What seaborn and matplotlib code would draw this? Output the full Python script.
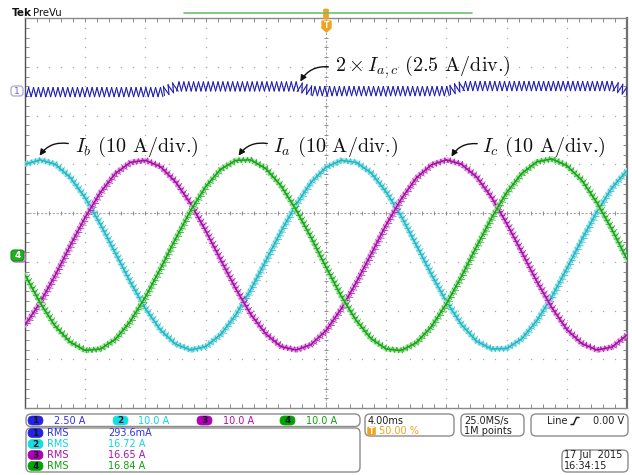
import numpy as np
import pandas as pd
import matplotlib
matplotlib.use("Agg")
import matplotlib.pyplot as plt
import matplotlib.patheffects as pe
from matplotlib.patches import FancyBboxPatch, FancyArrowPatch, Polygon
from matplotlib.lines import Line2D
import seaborn as sns

time_ms = list(range(-20, 21))            # 4 ms/div, trigger at centre
# channel 2 : I_b  (10 A/div)
ib_cyan = [18.6, 19.5, 18.6, 15.9, 11.7, 6.3, 0.4, -5.6, -11.0, -15.4, -18.3,
           -19.5, -18.8, -16.3, -12.3, -7.1, -1.2, 4.8, 10.3, 14.9, 18.0,
           19.4, 19.0, 16.8, 12.9, 7.9, 2.0, -4.0, -9.6, -14.3, -17.7,
           -19.3, -19.2, -17.2, -13.5, -8.6, -2.8, 3.2, 8.9, 13.8, 17.3]
# channel 3 : I_c  (10 A/div)
ic_magenta = [-14.4, -9.8, -4.2, 1.9, 7.7, 12.8, 16.7, 19.0, 19.4, 18.1, 15.0,
              10.5, 5.0, -1.0, -6.9, -12.2, -16.2, -18.8, -19.5, -18.4, -15.5,
              -11.1, -5.7, 0.2, 6.2, 11.5, 15.8, 18.5, 19.5, 18.6, 16.0,
              11.8, 6.5, 0.6, -5.4, -10.8, -15.3, -18.2, -19.5, -18.9, -16.4]
# channel 4 : I_a  (10 A/div)
ia_green = [-4.1, -9.8, -14.6, -17.9, -19.6, -19.3, -17.3, -13.6, -8.6, -2.8, 3.3,
            9.1, 14.0, 17.6, 19.4, 19.5, 17.7, 14.2, 9.3, 3.6, -2.5,
            -8.4, -13.4, -17.2, -19.3, -19.6, -18.0, -14.7, -10.0, -4.4, 1.7,
            7.6, 12.8, 16.7, 19.1, 19.7, 18.3, 15.3, 10.7, 5.2, -0.9]
# channel 1 : 2 x I_a,c mean level (2.5 A/div)
iac_blue = [-0.05, -0.05, -0.05, -0.05, -0.05, -0.05, -0.05, -0.05, -0.05, -0.05,
            0.24, 0.24, 0.24, 0.24, 0.24, 0.24, 0.24, 0.24, 0.24,
            0.0, 0.0, 0.0, 0.0, 0.0, 0.0, 0.0, 0.0, 0.0, 0.0,
            0.26, 0.26, 0.26, 0.26, 0.26, 0.26, 0.26, 0.26, 0.26, 0.26, 0.26, 0.0]

ch_names = ["1", "2", "3", "4"]
ch_scale = [2.5, 10.0, 10.0, 10.0]         # A/div
ch_offset = [2.5, -0.86, -0.86, -0.86]    # div
ch_color = ["#1c1cb0", "#22b6c2", "#a010a0", "#16a216"]
ch_halo = ["#8080e0", "#9ce6ec", "#e8a0e8", "#a4e6a4"]
rms_values = ["293.6mA", "16.72 A", "16.65 A", "16.84 A"]
scale_text = ["2.50 A", "10.0 A", "10.0 A", "10.0 A"]
text_color = ["#3030e8", "#10d4dc", "#b010b0", "#10a010"]
pill_color = ["#2424e0", "#10e0e0", "#b000b0", "#00a400"]

W, H = 632, 475
fig = plt.figure(figsize=(W / 100, H / 100), dpi=100)
sns.set_style("white")
plt.rcParams["mathtext.fontset"] = "cm"
plt.rcParams["font.family"] = ["DejaVu Sans"]

ax = fig.add_axes([25 / W, 1 - 408 / H, 602 / W, 390 / H])

# long-form table for seaborn
series = [iac_blue, ib_cyan, ic_magenta, ia_green]
rows = []
for k, vals in enumerate(series):
    for t, v in zip(time_ms, vals):
        rows.append({"t": t, "div": ch_offset[k] + v / ch_scale[k], "ch": ch_names[k]})
df = pd.DataFrame(rows)
sns.lineplot(data=df, x="t", y="div", hue="ch", hue_order=ch_names,
             palette=dict(zip(ch_names, ch_color)), legend=False, ax=ax,
             estimator=None, sort=False, linewidth=1.0)


def ripple(color, spacing, amp_px, lw, alpha=1.0):
    """zig-zag ripple texture drawn along a trace (pure rendering style)"""
    amp = amp_px * 0.72
    q = spacing / 4.0
    th = np.degrees(np.arctan2(amp, q))
    L = np.hypot(amp, q) / spacing
    kw = dict(spacing=spacing, length=L, linewidth=lw, foreground=color, alpha=alpha)
    return [pe.TickedStroke(angle=th, **kw),
            pe.TickedStroke(angle=th - 180, **kw),
            pe.TickedStroke(offset=(spacing / 2, 0), angle=180 - th, **kw),
            pe.TickedStroke(offset=(spacing / 2, 0), angle=-th, **kw)]


for k, line in enumerate(ax.lines[:4]):
    if k == 0:
        line.set_path_effects(ripple(ch_color[0], 3.5, 4.6, 0.8))
    else:
        line.set_path_effects(
            [pe.Stroke(linewidth=3.8, foreground=ch_halo[k], alpha=0.85)]
            + ripple(ch_color[k], 3.0, 2.6, 0.55, alpha=0.9)
            + [pe.Stroke(linewidth=1.1, foreground=ch_color[k])])
    line.set_zorder(5 + k)

ax.set_xlim(-20, 20)
ax.set_ylim(-4, 4)
ax.set_xlabel("")
ax.set_ylabel("")
ax.set_xticks(np.arange(-20, 20.01, 0.8))
ax.set_yticks(np.arange(-4, 4.01, 0.2))
ax.tick_params(direction="in", length=3, width=0.7, color="#8a8a8a",
               top=True, right=True, labelbottom=False, labelleft=False,
               bottom=True, left=True)
for s in ax.spines.values():
    s.set_color("#8a8a8a")
    s.set_linewidth(1.0)
ax.spines["left"].set_color("#505050")
ax.spines["right"].set_linewidth(1.6)
ax.spines["right"].set_color("#707070")

# dotted graticule
gx = [-16, -12, -8, -4, 4, 8, 12, 16]
gy = [-3, -2, -1, 1, 2, 3]
dots_y = np.arange(-4, 4.001, 0.2)
dots_x = np.arange(-20, 20.001, 0.8)
for x in gx:
    ax.plot([x] * len(dots_y), dots_y, ls="none", marker="s", ms=0.9, mew=0,
            color="#a8a8a8", zorder=1)
for y in gy:
    ax.plot(dots_x, [y] * len(dots_x), ls="none", marker="s", ms=0.9, mew=0,
            color="#a8a8a8", zorder=1)
ax.axhline(0, color="#a8a8a8", lw=0.8, ls=(0, (2, 1.5)), zorder=1)
ax.axvline(0, color="#a8a8a8", lw=0.8, ls=(0, (2, 1.5)), zorder=1)
ax.vlines(dots_x, -0.045, 0.045, color="#909090", lw=0.7, zorder=1)
ax.hlines(dots_y, -0.13, 0.13, color="#909090", lw=0.7, zorder=1)

# ---------------- overlays in pixel coordinates ----------------
def fx(x):
    return x / W

def fy(y):
    return 1 - y / H

def rbox(x0, y0, x1, y1, ec="#8c8c8c", fc="white", r=0.05, lw=1.0, z=1):
    p = FancyBboxPatch((x0 / 100, (H - y1) / 100), (x1 - x0) / 100, (y1 - y0) / 100,
                       boxstyle=f"round,pad=0,rounding_size={r}",
                       transform=fig.dpi_scale_trans, fc=fc, ec=ec, lw=lw, zorder=z)
    fig.add_artist(p)

def ptext(x, y, s, color="#202020", size=7, weight="normal", ha="left", family="DejaVu Sans"):
    fig.text(fx(x), fy(y), s, color=color, fontsize=size, weight=weight,
             ha=ha, va="center", family=family)

def pill(x0, x1, yc, color, num):
    rbox(x0, yc - 4.5, x1, yc + 4.5, ec=color, fc=color, r=0.045, lw=0.5)
    ptext((x0 + x1) / 2, yc + 0.3, num, color="#141432", size=6.5, weight="bold", ha="center")

# Tek header
ptext(12, 13, "Tek", size=7.5, weight="bold", color="#111111")
ptext(33, 13, "PreVu", size=7.3, color="#111111")
fig.add_artist(Line2D([fx(184), fx(472)], [fy(13.3), fy(13.3)], color="#6cc46c", lw=1.2))

# trigger marker
orange = "#f2a21e"
rbox(323.5, 9, 328.5, 19, ec=orange, fc=orange, r=0.01, lw=0.5)
fig.add_artist(Polygon([[fx(322), fy(21)], [fx(331), fy(21)], [fx(331), fy(28)],
                        [fx(326.5), fy(32)], [fx(322), fy(28)]], closed=True,
                       fc=orange, ec=orange, transform=fig.transFigure))
ptext(326.5, 25.5, "T", color="white", size=5.5, weight="bold", ha="center")

# channel ground markers
rbox(11, 86, 23, 96, ec="#a8a8d8", fc="white", r=0.03, lw=0.9, z=3)
ptext(17, 91.3, "1", color="#6868a8", size=6.5, ha="center")
rbox(12.5, 251, 25.5, 262, ec="#c060c0", fc="white", r=0.03, lw=1.0, z=3)
rbox(11, 250, 24, 261, ec="#109010", fc="#22b022", r=0.03, lw=0.8, z=3)
ptext(17.5, 255.8, "4", color="white", size=6.5, weight="bold", ha="center")

# annotations (LaTeX-like serif)
lab = dict(fontsize=14.5, color="#111111", va="baseline", ha="left", family="cmr10")
fig.text(fx(335), fy(71), r"$2\times I_{a,c}$ (2.5 A/div.)", **lab)
fig.text(fx(75), fy(152), r"$I_b$ (10 A/div.)", **lab)
fig.text(fx(273), fy(152), r"$I_a$ (10 A/div.)", **lab)
fig.text(fx(482), fy(152), r"$I_c$ (10 A/div.)", **lab)

def arrow(x0, y0, x1, y1, rad):
    a = FancyArrowPatch((fx(x0), fy(y0)), (fx(x1), fy(y1)), transform=fig.transFigure,
                        connectionstyle=f"arc3,rad={rad}", arrowstyle="-|>",
                        mutation_scale=9, color="#111111", lw=1.0, zorder=20)
    fig.add_artist(a)

arrow(331, 67, 299, 84, 0.35)
arrow(71, 144, 38, 158, 0.35)
arrow(270, 144, 237, 158, 0.35)
arrow(480, 144, 450, 159, 0.35)

# ---------------- bottom status panel ----------------
rbox(26, 414, 360, 426.5, r=0.05)
rbox(26, 428, 360, 472, r=0.05)
rbox(365, 414, 454, 436, r=0.05)
rbox(461, 414, 524, 436, r=0.05)
rbox(531, 414, 628, 436, r=0.05)
rbox(562, 450, 628, 472, r=0.05)

row1 = 420.5
pill_x = [28, 113, 197, 280]
txt_x = [54, 138, 223, 306]
for k in range(4):
    pill(pill_x[k], pill_x[k] + 15, row1, pill_color[k], ch_names[k])
    ptext(txt_x[k], row1, scale_text[k], color=text_color[k], size=7)

rows_y = [433, 444, 455, 466]
for k in range(4):
    pill(28, 43, rows_y[k], pill_color[k], ch_names[k])
    ptext(47, rows_y[k], "RMS", color=text_color[k], size=7)
    ptext(108, rows_y[k], rms_values[k], color=text_color[k], size=7)

ptext(368, 421, "4.00ms", size=7)
rbox(367.5, 427, 375.5, 435, ec=orange, fc=orange, r=0.01, lw=0.4)
ptext(371.5, 431.3, "T", color="white", size=5.5, weight="bold", ha="center")
ptext(379, 431, "50.00 %", color=orange, size=7)
ptext(464, 421, "25.0MS/s", size=7)
ptext(464, 431, "1M points", size=7)
ptext(547, 421, "Line", size=7)
fig.add_artist(Line2D([fx(571), fx(573.5), fx(576.5), fx(579)],
                      [fy(424.5), fy(424.5), fy(417.5), fy(417.5)], color="#202020", lw=1.1))
ptext(593, 421, "0.00 V", size=7)
ptext(564, 455, "17 Jul  2015", size=7)
ptext(564, 466, "16:34:15", size=7)

fig.savefig("out.png", dpi=100, facecolor="white")
